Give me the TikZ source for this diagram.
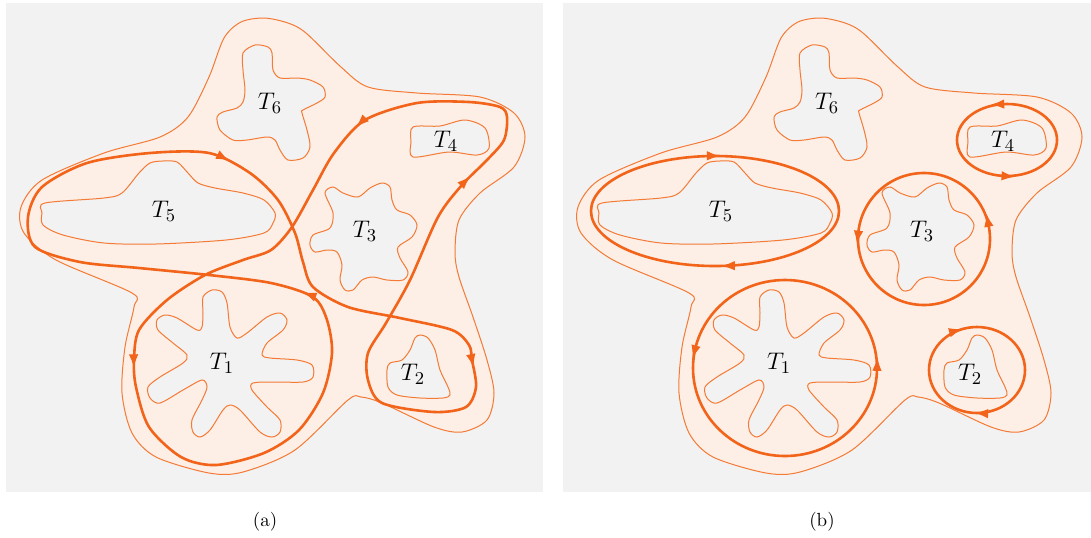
\documentclass[tikz,border=0pt]{standalone}
\usetikzlibrary{arrows.meta,decorations.markings}

\begin{document}
\begin{tikzpicture}[x=0.5pt, y=-0.5pt,
    regionfill/.style={draw=edgeOrange, fill=regionPink, line width=0.5pt},
    holefill/.style={draw=edgeOrange, fill=panelGrey, line width=0.5pt},
    flowline/.style={draw=flowOrange, line width=1.3pt},
    tlabel/.style={font=\fontsize{13}{15}\selectfont},
    sublabel/.style={font=\fontsize{9.5}{11}\selectfont},
    fwdat/.style={postaction={decorate, decoration={markings,
        mark=at position #1 with {\arrow{Latex[length=7pt,width=4.8pt]}}}}},
    revat/.style={postaction={decorate, decoration={markings,
        mark=at position #1 with {\arrow{Latex[length=7pt,width=4.8pt,reversed]}}}}}]
    % Define colours
    \definecolor{panelGrey}{HTML}{F2F2F2}
    \definecolor{regionPink}{HTML}{FDEEE6}
    \definecolor{edgeOrange}{HTML}{F47A35}
    \definecolor{flowOrange}{HTML}{F26419}

    % Fix picture size (pixel units)
    \useasboundingbox (0,0) rectangle (1091,537);

    % Draw the region with its holes in both panels
    \foreach \panelShift/\panelName in {0/a, 557/b}{
    \begin{scope}[shift={(\panelShift,0)}]
        % Background
        \fill[panelGrey] (6,3) rectangle (543,492);

        % Outer region
        \filldraw[regionfill] plot[smooth cycle] coordinates {
            (264,18) (288,23) (306,33) (341,67) (368,87) (417,93) (480,97)
            (514,113) (525,137) (514,167) (480,193) (459,220) (455,253)
            (459,277) (473,317) (487,360) (494,393) (487,420) (462,432)
            (434,427) (382,403) (361,397) (348,400) (295,450) (243,472)
            (209,473) (156,457) (132,433) (122,393) (125,347) (134,307)
            (132,293) (56,260) (24,233) (21,207) (42,180) (104,153)
            (160,137) (188,117) (209,77) (224,38) (241,22)};

        % Hole T1
        \filldraw[holefill] plot[smooth cycle] coordinates {
            (203,297) (212,290) (222,292) (227,303) (230,327) (237,338)
            (247,333) (267,317) (280,313) (287,320) (283,330) (267,343)
            (262,355) (270,358) (297,360) (312,365) (313,377) (303,382)
            (273,382) (253,383) (252,390) (267,407) (280,420) (280,432)
            (272,437) (260,432) (240,410) (230,405) (223,410) (210,430)
            (200,437) (193,432) (192,420) (202,400) (207,387) (202,380)
            (183,390) (160,403) (150,398) (148,387) (160,377) (183,363)
            (187,355) (173,343) (158,330) (157,320) (165,315) (177,318)
            (197,330) (202,327) (203,313)};

        % Hole T2
        \filldraw[holefill] plot[smooth cycle] coordinates {
            (420,335) (428,338) (435,350) (440,370) (448,387) (450,395)
            (443,398) (420,398) (397,395) (388,387) (387,370) (390,363)
            (402,360) (410,350) (415,338)};

        % Hole T3
        \filldraw[holefill] plot[smooth cycle] coordinates {
            (325,193) (333,213) (330,228) (313,235) (310,245) (315,252)
            (327,250) (337,252) (342,265) (340,280) (345,290) (353,290)
            (362,280) (373,277) (387,280) (403,280) (408,272) (400,258)
            (398,247) (412,237) (417,225) (410,215) (397,210) (392,200)
            (390,187) (382,183) (370,188) (358,197) (343,193) (333,187)};

        % Hole T4
        \filldraw[holefill] plot[smooth cycle] coordinates {
            (413,127) (440,126) (465,120) (485,128) (489,148) (477,155)
            (449,152) (413,157) (411,142)};

        % Hole T5
        \filldraw[holefill] plot[smooth cycle] coordinates {
            (42,213) (45,203) (104,198) (122,193) (139,173) (150,163)
            (163,161) (177,162) (188,173) (198,183) (215,188) (243,193)
            (264,200) (275,213) (273,223) (264,233) (226,240) (156,244)
            (104,243) (63,235) (43,225)};

        % Hole T6
        \filldraw[holefill] plot[smooth cycle] coordinates {
            (302,113) (307,130) (310,147) (303,158) (288,160) (280,150)
            (275,140) (267,137) (247,140) (233,140) (220,130) (217,117)
            (223,112) (237,108) (243,102) (245,90) (243,70) (243,53)
            (255,45) (268,47) (272,53) (273,70) (280,78) (297,78)
            (310,80) (323,87) (325,97) (317,103) (303,110)};

        % Label the holes
        \node[tlabel] (\panelName T1) at (222,363) {$T_1$};
        \node[tlabel] (\panelName T2) at (413,374) {$T_2$};
        \node[tlabel] (\panelName T3) at (365,231) {$T_3$};
        \node[tlabel] (\panelName T4) at (446,141) {$T_4$};
        \node[tlabel] (\panelName T5) at (164,211) {$T_5$};
        \node[tlabel] (\panelName T6) at (270,103) {$T_6$};
    \end{scope}
    }

    % Panel (a): one closed curve winding between the holes
    \draw[flowline, fwdat=0.010, fwdat=0.166, fwdat=0.339, fwdat=0.444,
          fwdat=0.598, fwdat=0.772] plot[smooth cycle] coordinates {
        (150,153) (209,153) (250,173) (278,200) (295,233) (303,262)
        (313,287) (348,307) (400,318) (452,330) (469,345) (472,360)
        (476,387) (466,407) (434,412) (382,403) (368,380) (368,353)
        (386,323) (410,280) (438,217) (462,185) (487,160) (504,140)
        (507,117) (500,107) (469,102) (417,103) (365,120) (334,153)
        (313,190) (292,227) (271,250) (243,260) (205,275) (167,300)
        (139,330) (134,360) (136,387) (149,427) (181,457) (216,465)
        (264,453) (299,430) (323,393) (332,353) (327,320) (313,297)
        (271,283) (209,275) (139,268) (80,262) (35,247) (28,217)
        (42,187) (87,163)};

    % Panel (b): one loop round each hole but T6
    \draw[flowline, revat=0.005, revat=0.54] (785,368) ellipse [x radius=92, y radius=88];
    \draw[flowline, fwdat=0.26, fwdat=0.70] (977,370) ellipse [x radius=48, y radius=43];
    \draw[flowline, revat=0.52, revat=0.97] (924,239) ellipse [x radius=66, y radius=66];
    \draw[flowline, revat=0.27, revat=0.74] (1007,140) ellipse [x radius=50, y radius=36];
    \draw[flowline, fwdat=0.24, fwdat=0.76] (715,211) ellipse [x radius=124, y radius=55];

    % Panel captions
    \node[sublabel] (capA) at (265,522) {(a)};
    \node[sublabel] (capB) at (822,522) {(b)};
\end{tikzpicture}
\end{document}
